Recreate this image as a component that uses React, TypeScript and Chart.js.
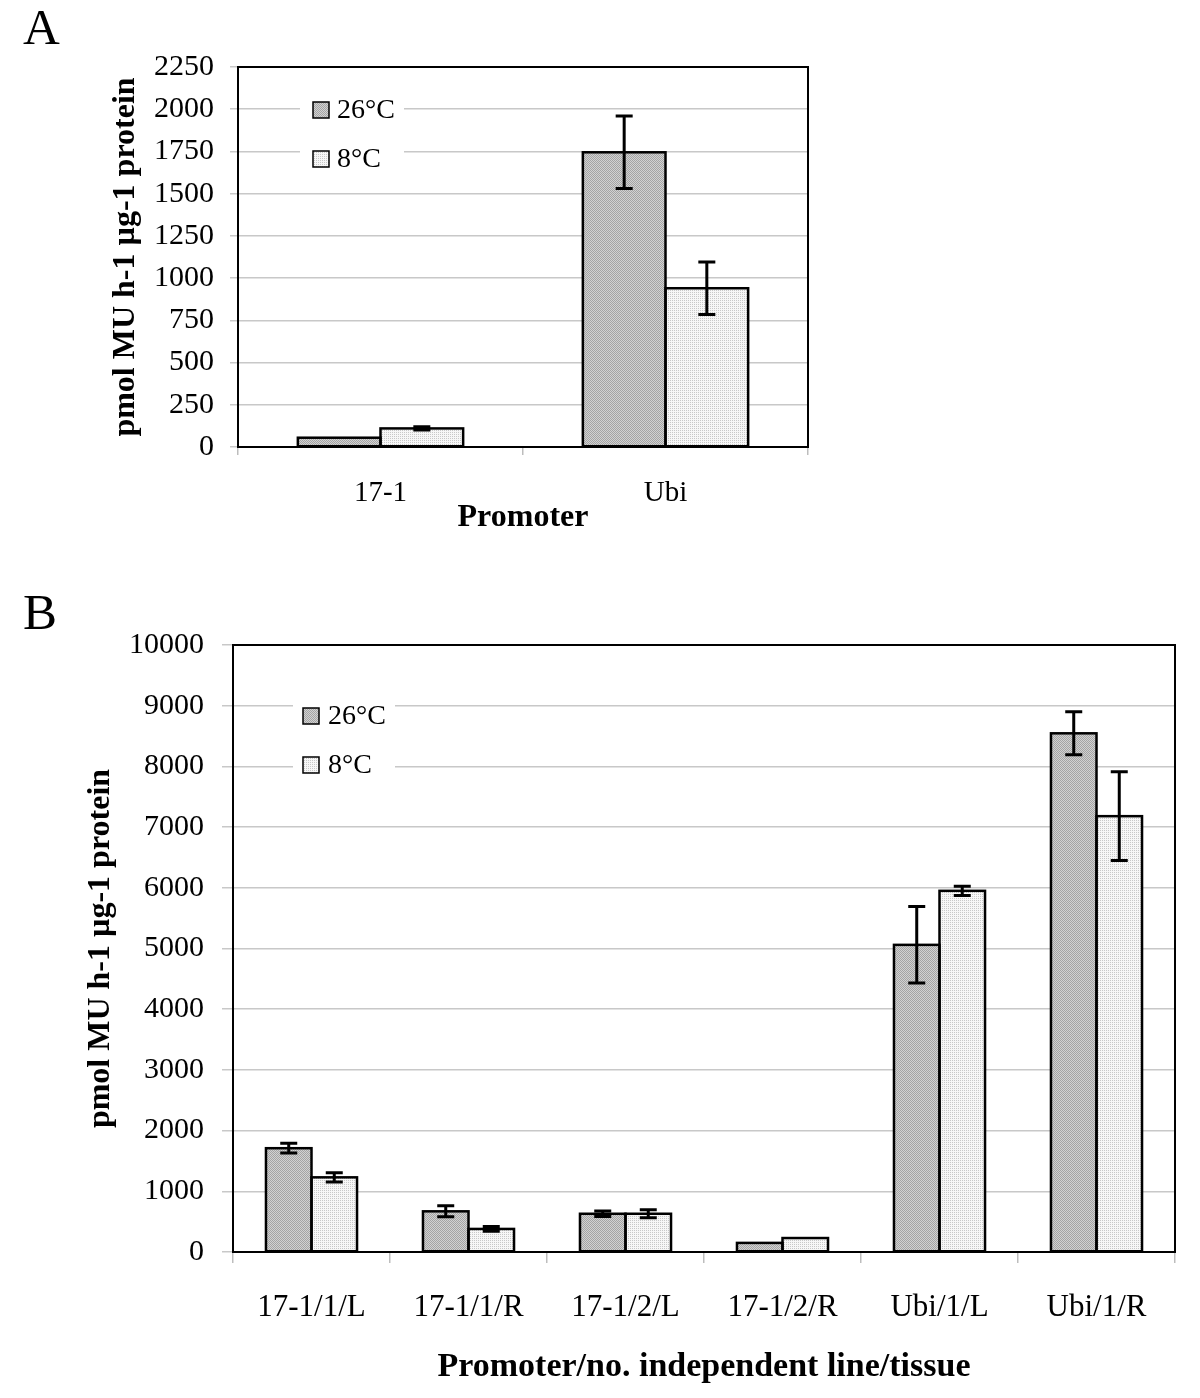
import React, { useEffect, useRef } from "react";
import { Chart, registerables } from "chart.js";

Chart.register(...registerables);

// ---------- DATA ----------
const seriesNames = ["26°C", "8°C"];

// Panel A
const promoterCategories = ["17-1", "Ubi"];
const promoter26 = [55, 1745];
const promoter8 = [110, 940];
const promoter26Err = [0, 215];
const promoter8Err = [10, 155];
const promoterYTicks = [0, 250, 500, 750, 1000, 1250, 1500, 1750, 2000, 2250];

// Panel B
const lineCategories = ["17-1/1/L", "17-1/1/R", "17-1/2/L", "17-1/2/R", "Ubi/1/L", "Ubi/1/R"];
const line26 = [1710, 670, 630, 150, 5060, 8545];
const line8 = [1230, 380, 630, 230, 5950, 7180];
const line26Err = [80, 90, 45, 0, 630, 355];
const line8Err = [75, 40, 65, 0, 75, 730];
const lineYTicks = [0, 1000, 2000, 3000, 4000, 5000, 6000, 7000, 8000, 9000, 10000];

const yTitle = "pmol MU h-1 µg-1 protein";
const xTitleA = "Promoter";
const xTitleB = "Promoter/no. independent line/tissue";

const SERIF = "'Liberation Serif', 'Times New Roman', serif";

function makePattern(a: string, b: string, c: string, d: string): CanvasPattern | string {
  const t = document.createElement("canvas");
  t.width = 2;
  t.height = 2;
  const g = t.getContext("2d");
  if (!g) return a;
  g.fillStyle = a; g.fillRect(0, 0, 1, 1);
  g.fillStyle = b; g.fillRect(1, 0, 1, 1);
  g.fillStyle = c; g.fillRect(0, 1, 1, 1);
  g.fillStyle = d; g.fillRect(1, 1, 1, 1);
  const ctx = document.createElement("canvas").getContext("2d");
  const p = ctx ? ctx.createPattern(t, "repeat") : null;
  return p || a;
}

const framePlugin = {
  id: "frame",
  afterDatasetsDraw(chart: any) {
    const { ctx, chartArea } = chart;
    ctx.save();
    ctx.strokeStyle = "#000";
    ctx.lineWidth = 2;
    ctx.strokeRect(chartArea.left, chartArea.top, chartArea.right - chartArea.left, chartArea.bottom - chartArea.top);
    ctx.restore();
  },
};

const barOutlinePlugin = {
  id: "barOutline",
  afterDatasetsDraw(chart: any) {
    const { ctx } = chart;
    ctx.save();
    ctx.strokeStyle = "#000";
    ctx.lineWidth = 2.5;
    ctx.lineJoin = "miter";
    chart.data.datasets.forEach((_ds: any, di: number) => {
      const meta = chart.getDatasetMeta(di);
      meta.data.forEach((bar: any) => {
        const { x, y, base, width } = bar.getProps(["x", "y", "base", "width"], true);
        ctx.strokeRect(x - width / 2, y, width, base - y);
      });
    });
    ctx.restore();
  },
};

const errorBarPlugin = {
  id: "errorBars",
  afterDatasetsDraw(chart: any, _args: any, opts: any) {
    const { ctx } = chart;
    const yScale = chart.scales.y;
    ctx.save();
    ctx.strokeStyle = "#000";
    ctx.lineWidth = opts.lineWidth || 3;
    chart.data.datasets.forEach((ds: any, di: number) => {
      const meta = chart.getDatasetMeta(di);
      meta.data.forEach((bar: any, i: number) => {
        const v = ds.data[i];
        const e = ds.errors[i];
        if (!e) return;
        const x = bar.x;
        const yt = yScale.getPixelForValue(v + e);
        const yb = yScale.getPixelForValue(v - e);
        const hw = opts.capHalf || 8.5;
        ctx.beginPath();
        ctx.moveTo(x, yt);
        ctx.lineTo(x, yb);
        ctx.moveTo(x - hw, yt);
        ctx.lineTo(x + hw, yt);
        ctx.moveTo(x - hw, yb);
        ctx.lineTo(x + hw, yb);
        ctx.stroke();
      });
    });
    ctx.restore();
  },
};

const boxLegendPlugin = {
  id: "boxLegend",
  afterDraw(chart: any, _args: any, o: any) {
    const { ctx } = chart;
    ctx.save();
    ctx.fillStyle = "#fff";
    ctx.fillRect(o.boxX, o.boxY, o.boxW, o.boxH);
    chart.data.datasets.forEach((ds: any, i: number) => {
      const cy = o.rowY[i];
      ctx.fillStyle = ds.backgroundColor;
      ctx.fillRect(o.markerX, cy - o.marker / 2, o.marker, o.marker);
      ctx.strokeStyle = "#000";
      ctx.lineWidth = 1.5;
      ctx.strokeRect(o.markerX, cy - o.marker / 2, o.marker, o.marker);
      ctx.fillStyle = "#000";
      ctx.font = `${o.fontSize}px ${SERIF}`;
      ctx.textAlign = "left";
      ctx.textBaseline = "middle";
      ctx.fillText(ds.label, o.textX, cy + 1);
    });
    ctx.restore();
  },
};

interface PanelCfg {
  width: number;
  height: number;
  categories: string[];
  s26: number[];
  s8: number[];
  e26: number[];
  e8: number[];
  yTicks: number[];
  xTitle: string;
  yWidth: number;
  xHeight: number;
  padding: { top: number; right: number; left: number; bottom: number };
  yTickLen: number;
  yTickPad: number;
  yTitlePad: number;
  xTickLen: number;
  xTickPad: number;
  xTickFont: number;
  xTitleFont: number;
  xTitlePad: number;
  legend: any;
}

function Panel({ cfg, style }: { cfg: PanelCfg; style: React.CSSProperties }) {
  const ref = useRef<HTMLCanvasElement | null>(null);
  useEffect(() => {
    if (!ref.current) return;
    const pat26 = makePattern("#a4a4a4", "#d2d2d2", "#d2d2d2", "#a4a4a4");
    const pat8 = makePattern("#c8c8c8", "#f7f7f7", "#f7f7f7", "#f7f7f7");
    const yMax = cfg.yTicks[cfg.yTicks.length - 1];
    const chart = new Chart(ref.current, {
      type: "bar",
      data: {
        labels: cfg.categories,
        datasets: [
          {
            label: seriesNames[0],
            data: cfg.s26,
            errors: cfg.e26,
            backgroundColor: pat26 as any,
            borderWidth: 0,
            inflateAmount: 0,
            categoryPercentage: 0.58,
            barPercentage: 1.0,
          } as any,
          {
            label: seriesNames[1],
            data: cfg.s8,
            errors: cfg.e8,
            backgroundColor: pat8 as any,
            borderWidth: 0,
            inflateAmount: 0,
            categoryPercentage: 0.58,
            barPercentage: 1.0,
          } as any,
        ],
      },
      options: {
        responsive: false,
        animation: false,
        devicePixelRatio: 1,
        layout: { padding: cfg.padding },
        plugins: {
          legend: { display: false },
          tooltip: { enabled: false },
          errorBars: { lineWidth: 3, capHalf: 8.5 },
          boxLegend: cfg.legend,
        } as any,
        scales: {
          x: {
            offset: true,
            grid: {
              display: true,
              drawOnChartArea: false,
              drawTicks: true,
              tickLength: cfg.xTickLen,
              color: "#bdbdbd",
              lineWidth: 1.5,
              offset: true,
            },
            border: { display: false },
            ticks: {
              autoSkip: false,
              maxRotation: 0,
              padding: cfg.xTickPad,
              color: "#000",
              font: { family: SERIF, size: cfg.xTickFont },
            },
            title: {
              display: true,
              text: cfg.xTitle,
              color: "#000",
              font: { family: SERIF, size: cfg.xTitleFont, weight: "bold" },
              padding: { top: 0, bottom: cfg.xTitlePad },
            },
            afterFit(scale: any) {
              scale.height = cfg.xHeight;
            },
          },
          y: {
            min: 0,
            max: yMax,
            grid: {
              color: "#c8c8c8",
              lineWidth: 1.5,
              drawTicks: true,
              tickLength: cfg.yTickLen,
            },
            border: { display: false },
            afterBuildTicks(scale: any) {
              scale.ticks = cfg.yTicks.map((v) => ({ value: v }));
            },
            ticks: {
              padding: cfg.yTickPad,
              color: "#000",
              font: { family: SERIF, size: 30 },
              callback: (v: any) => String(v),
            },
            title: {
              display: true,
              text: yTitle,
              color: "#000",
              font: { family: SERIF, size: 32, weight: "bold" },
              padding: { top: cfg.yTitlePad, bottom: 0 },
            },
            afterFit(scale: any) {
              scale.width = cfg.yWidth;
            },
          },
        },
      } as any,
      plugins: [barOutlinePlugin, framePlugin, errorBarPlugin, boxLegendPlugin],
    });
    return () => chart.destroy();
  }, [cfg]);
  return <canvas ref={ref} width={cfg.width} height={cfg.height} style={style} />;
}

const cfgA: PanelCfg = {
  width: 860,
  height: 560,
  categories: promoterCategories,
  s26: promoter26,
  s8: promoter8,
  e26: promoter26Err,
  e8: promoter8Err,
  yTicks: promoterYTicks,
  xTitle: xTitleA,
  yWidth: 238,
  xHeight: 113,
  padding: { top: 67, right: 52, left: 0, bottom: 0 },
  yTickLen: 8,
  yTickPad: 16,
  yTitlePad: 107,
  xTickLen: 8,
  xTickPad: 21,
  xTickFont: 29,
  xTitleFont: 32,
  xTitlePad: 23,
  legend: {
    boxX: 300, boxY: 88, boxW: 104, boxH: 92,
    rowY: [110, 159], markerX: 313, marker: 16, textX: 337, fontSize: 28,
  },
};

const cfgB: PanelCfg = {
  width: 1200,
  height: 838,
  categories: lineCategories,
  s26: line26,
  s8: line8,
  e26: line26Err,
  e8: line8Err,
  yTicks: lineYTicks,
  xTitle: xTitleB,
  yWidth: 233,
  xHeight: 146,
  padding: { top: 85, right: 25, left: 0, bottom: 0 },
  yTickLen: 11,
  yTickPad: 18,
  yTitlePad: 82,
  xTickLen: 11,
  xTickPad: 26,
  xTickFont: 31,
  xTitleFont: 34,
  xTitlePad: 10,
  legend: {
    boxX: 293, boxY: 130, boxW: 102, boxH: 95,
    rowY: [156, 205], markerX: 303, marker: 16, textX: 328, fontSize: 28,
  },
};

export default function App() {
  const letter: React.CSSProperties = {
    position: "absolute",
    left: 23,
    fontFamily: SERIF,
    fontSize: 51,
    lineHeight: "51px",
    color: "#000",
    margin: 0,
  };
  return (
    <div style={{ position: "absolute", left: 0, top: 0, width: 1200, height: 1398, background: "#fff", overflow: "hidden" }}>
      <Panel cfg={cfgA} style={{ position: "absolute", left: 0, top: 0, display: "block" }} />
      <Panel cfg={cfgB} style={{ position: "absolute", left: 0, top: 560, display: "block" }} />
      <div style={{ ...letter, top: 2 }}>A</div>
      <div style={{ ...letter, top: 587 }}>B</div>
    </div>
  );
}
